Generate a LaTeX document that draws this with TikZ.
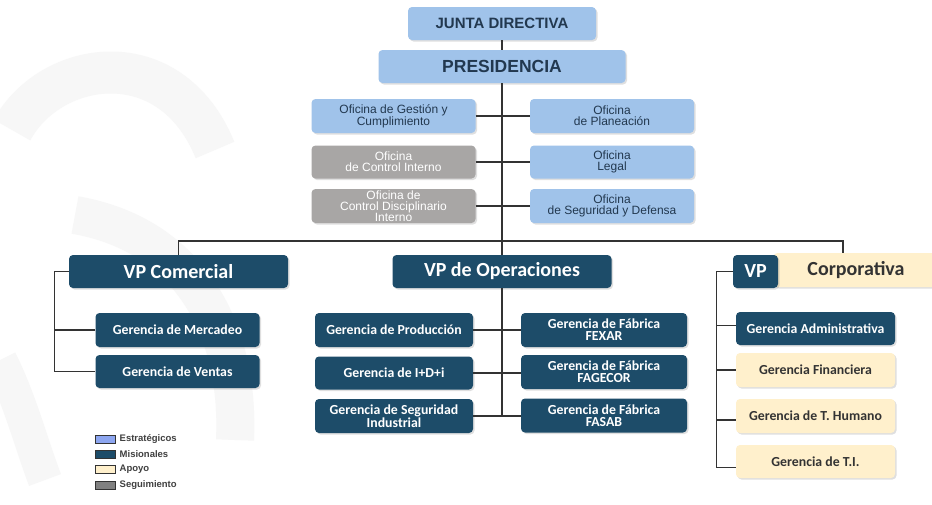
\documentclass[tikz,border=0pt]{standalone}
\usepackage{fontspec}
\setmainfont{Carlito}
\newfontfamily\arialf{Liberation Sans}
\usetikzlibrary{shadows,calc}
\definecolor{estrat}{HTML}{A0C3EA}
\definecolor{estrattxt}{HTML}{22384F}
\definecolor{mision}{HTML}{1D4C69}
\definecolor{apoyo}{HTML}{FFF0CC}
\definecolor{apoyotxt}{HTML}{333333}
\definecolor{seguim}{HTML}{A8A6A5}
\definecolor{linea}{HTML}{333333}
\definecolor{marca}{HTML}{F7F7F7}

\begin{document}
\begin{tikzpicture}[x=1pt,y=-1pt,
  caja/.style={rounded corners=4pt,inner sep=1pt,align=center,
    drop shadow={shadow xshift=1.5pt,shadow yshift=-1.5pt,opacity=.25}},
  estrategico/.style={caja,fill=estrat,text=estrattxt},
  seguimiento/.style={caja,fill=seguim,text=white},
  misional/.style={caja,fill=mision,text=white},
  apoyobox/.style={caja,fill=apoyo,text=apoyotxt},
  oficina/.style={minimum width=164,minimum height=34,
    font=\arialf\fontsize{12}{10.8}\selectfont},
  vp/.style={misional,minimum width=219,minimum height=33,
    font=\bfseries\fontsize{20}{22}\selectfont},
  gerencia/.style={minimum width=164,minimum height=34,
    font=\bfseries\fontsize{13.8}{12}\selectfont},
  conn/.style={draw=linea,line width=1.1pt},
  swatch/.style={draw=black!80,line width=1pt,minimum width=20,minimum height=8,inner sep=0},
  leyenda/.style={anchor=west,inner sep=0,text=black!75,
    font=\arialf\bfseries\fontsize{9.5}{10}\selectfont}]
\useasboundingbox (0,0) rectangle (932,504);
\fill[white] (0,0) rectangle (932,504);

% faint logo in the background
\draw[marca,line width=42] (12,130) .. controls (50,60) and (170,40) .. (215,150);
\draw[marca,line width=38] (75,215) .. controls (190,235) and (240,330) .. (235,440);
\draw[marca,line width=34] (0,360) .. controls (20,400) and (30,440) .. (45,480);

% top
\node[estrategico,minimum width=188,minimum height=33,
  font=\arialf\bfseries\fontsize{15}{16}\selectfont] (junta) at (502,23.5) {JUNTA DIRECTIVA};
\node[estrategico,minimum width=247,minimum height=33,
  font=\arialf\bfseries\fontsize{17.5}{18}\selectfont] (pres) at (502,66.5) {PRESIDENCIA};

% oficinas
\node[estrategico,oficina] (ofgest) at (393.5,116) {Oficina de Gestión y\\Cumplimiento};
\node[estrategico,oficina] (ofplan) at (612,116) {Oficina\\de Planeación};
\node[seguimiento,oficina,minimum height=33] (ofctrl) at (393.5,162) {Oficina\\de Control Interno};
\node[estrategico,oficina,minimum height=33] (oflegal) at (612,162) {Oficina\\Legal};
\node[seguimiento,oficina] (ofdisc) at (393.5,206) {Oficina de\\Control Disciplinario\\Interno};
\node[estrategico,oficina] (ofseg) at (612,206) {Oficina\\de Seguridad y Defensa};

% vicepresidencias
\node[vp] (vpcom) at (178.5,271.5) {VP Comercial};
\node[vp] (vpops) at (502,271.5) {VP de Operaciones};
\node[apoyobox,minimum width=165,minimum height=34,
  font=\bfseries\fontsize{20}{22}\selectfont] (corp) at (856,270) {Corporativa};
\node[misional,minimum width=45,minimum height=33,
  font=\bfseries\fontsize{20}{22}\selectfont] (vpcorp) at (755.5,271.5) {VP};

% gerencias comerciales
\node[misional,gerencia] (merc) at (177.5,330) {Gerencia de Mercadeo};
\node[misional,gerencia,minimum height=33] (ventas) at (177.5,371.5) {Gerencia de Ventas};

% gerencias de operaciones
\node[misional,gerencia,minimum width=158] (prod) at (394,330) {Gerencia de Producción};
\node[misional,gerencia,minimum width=158,minimum height=33] (idi) at (394,373) {Gerencia de I+D+i};
\node[misional,gerencia,minimum width=158] (segind) at (394,416) {Gerencia de Seguridad\\Industrial};
\node[misional,gerencia,minimum width=166] (fexar) at (604,330) {Gerencia de Fábrica\\FEXAR};
\node[misional,gerencia,minimum width=166] (fagecor) at (604,372) {Gerencia de Fábrica\\FAGECOR};
\node[misional,gerencia,minimum width=166] (fasab) at (604,415.5) {Gerencia de Fábrica\\FASAB};

% gerencias corporativas
\node[misional,gerencia,minimum width=159,minimum height=33] (admin) at (815.5,328.5) {Gerencia Administrativa};
\node[apoyobox,gerencia,minimum width=159] (finan) at (815.5,370) {Gerencia Financiera};
\node[apoyobox,gerencia,minimum width=159] (thum) at (815.5,416) {Gerencia de T. Humano};
\node[apoyobox,gerencia,minimum width=159,minimum height=33] (ti) at (815.5,461.5) {Gerencia de T.I.};

% leyenda
\node[swatch,fill=estrat!80!blue!90] (legest) at (105,439) {};
\node[leyenda] at ([xshift=4pt]legest.east) {Estratégicos};
\node[swatch,fill=mision] (legmis) at (105,454.5) {};
\node[leyenda] at ([xshift=4pt]legmis.east) {Misionales};
\node[swatch,fill=apoyo] (legapo) at (105,469) {};
\node[leyenda] at ([xshift=4pt]legapo.east) {Apoyo};
\node[swatch,fill=black!50] (legseg) at (105,485) {};
\node[leyenda] at ([xshift=4pt]legseg.east) {Seguimiento};

% conectores
\coordinate (bus) at (502,241);
\draw[conn] (junta.south) -- (pres.north);
\draw[conn] (pres.south) -- (vpops.north);
\draw[conn] (ofgest.east) -- (ofplan.west);
\draw[conn] (ofctrl.east) -- (oflegal.west);
\draw[conn] (ofdisc.east) -- (ofseg.west);
\draw[conn] (vpcom.north) |- (bus) -| ([xshift=-13pt]corp.north);
\draw[conn] (vpcom.west) -- ++(-14,0) |- (ventas.west);
\draw[conn] (merc.west) -- ++(-40,0);
\draw[conn] (vpops.south) -- (vpops.south |- segind.east);
\draw[conn] (prod.east) -- (prod.east -| fexar.west);
\draw[conn] (idi.east) -- (idi.east -| fagecor.west);
\draw[conn] (segind.east) -- (segind.east -| fasab.west);
\draw[conn] (vpcorp.west) -- ++(-16,0) |- ([yshift=-6pt]ti.west);
\draw[conn] ([yshift=3pt]admin.west) -- ++(-19,0);
\draw[conn] (finan.west) -- ++(-19,0);
\draw[conn] ([yshift=-4pt]thum.west) -- ++(-19,0);
\end{tikzpicture}
\end{document}
